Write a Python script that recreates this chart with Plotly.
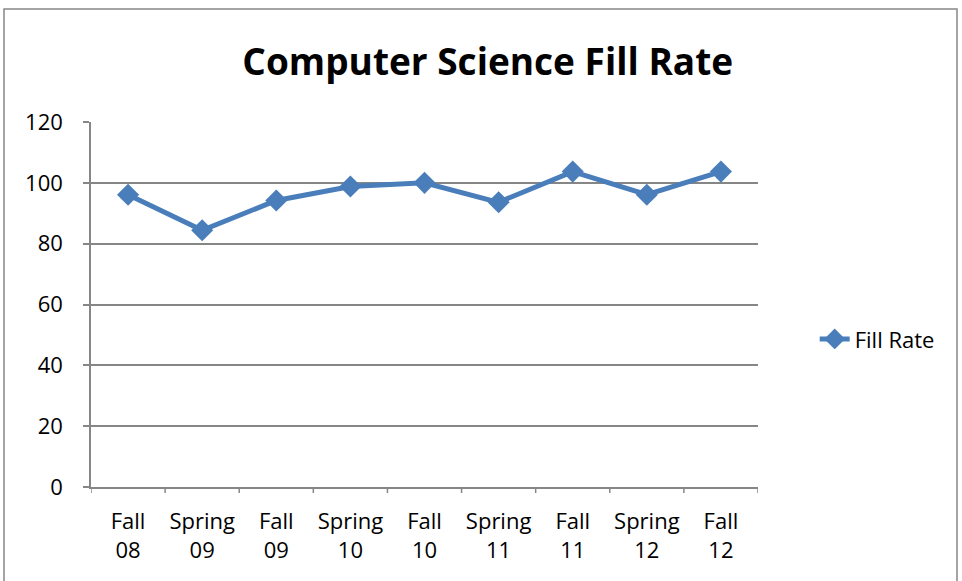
import plotly.graph_objects as go

categories = ["Fall<br>08", "Spring<br>09", "Fall<br>09", "Spring<br>10", "Fall<br>10",
              "Spring<br>11", "Fall<br>11", "Spring<br>12", "Fall<br>12"]
fill_rate = [96.1, 84.4, 94.2, 98.8, 100.0, 93.6, 103.7, 96.1, 103.7]
y_ticks = [0, 20, 40, 60, 80, 100, 120]

FONT = "Open Sans, Lato, sans-serif"
BLUE = "#4A7EBB"
GRID = "#868686"

fig = go.Figure()
fig.add_trace(go.Scatter(
    x=list(range(len(categories))), y=fill_rate, name="Fill Rate",
    mode="lines+markers",
    line=dict(color=BLUE, width=5),
    marker=dict(symbol="diamond", size=17, color=BLUE),
))

fig.update_layout(
    width=962, height=581,
    margin=dict(l=91, r=204, t=122, b=94),
    paper_bgcolor="white", plot_bgcolor="white",
    font=dict(family=FONT, size=22, color="black"),
    title=dict(text="<b>Computer Science Fill Rate</b>", x=0.507, xanchor="center",
               y=1 - 62 / 581, yanchor="middle",
               font=dict(family=FONT, size=37, color="black")),
    showlegend=True,
    legend=dict(x=1.085, y=0.405, xanchor="left", yanchor="middle",
                font=dict(family=FONT, size=22, color="black"),
                bgcolor="rgba(0,0,0,0)"),
    xaxis=dict(
        range=[-0.5, len(categories) - 0.5],
        tickmode="array", tickvals=list(range(len(categories))), ticktext=categories,
        showgrid=False, zeroline=False,
        showline=True, linecolor=GRID, linewidth=1.5,
        ticks="", ticklabelstandoff=14,
        tickfont=dict(family=FONT, size=22, color="black"),
    ),
    yaxis=dict(
        range=[0, 120], tickmode="array", tickvals=y_ticks,
        showgrid=True, gridcolor=GRID, gridwidth=1.5, zeroline=False,
        showline=True, linecolor=GRID, linewidth=1.5,
        ticks="outside", ticklen=6, tickcolor=GRID, tickwidth=1.5,
        tickfont=dict(family=FONT, size=22, color="black"),
        ticklabelstandoff=16,
    ),
)

# x-axis ticks at category boundaries (Excel style)
shapes = []
for i in range(len(categories) + 1):
    shapes.append(dict(type="line", xref="x", yref="paper", x0=i - 0.5, x1=i - 0.5,
                       y0=0, y1=-6 / 365, line=dict(color=GRID, width=1.5)))
# outer chart border
shapes.append(dict(type="rect", xref="paper", yref="paper",
                   x0=(4 - 91) / 667, x1=(957 - 91) / 667,
                   y0=(487 - 600) / 365, y1=(487 - 9) / 365,
                   line=dict(color="#868686", width=1.5), fillcolor="rgba(0,0,0,0)",
                   layer="below"))
fig.update_layout(shapes=shapes)

fig.write_html("out.html", config={"displayModeBar": False},
               post_script="document.body.style.margin='0';")
